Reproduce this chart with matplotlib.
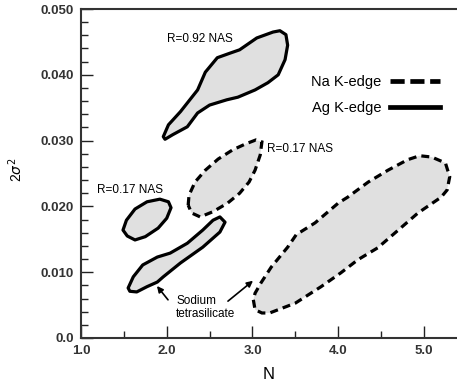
import matplotlib.pyplot as plt
from matplotlib.lines import Line2D

plt.rcParams['font.family'] = ['Liberation Sans', 'DejaVu Sans']

# Konturid (N, 2sigma^2)
r092_n = [1.96, 2.02, 2.16, 2.36, 2.45, 2.59, 2.74, 2.85, 3.05, 3.24, 3.32, 3.39, 3.41, 3.38,
          3.30, 3.18, 3.03, 2.83, 2.70, 2.50, 2.36, 2.24, 2.07, 1.98]
r092_s = [0.0306, 0.0324, 0.0344, 0.0377, 0.0404, 0.0426, 0.0433, 0.0438, 0.0456, 0.0465, 0.0467,
          0.0461, 0.0445, 0.0423, 0.0400, 0.0388, 0.0377, 0.0366, 0.0362, 0.0354, 0.0342, 0.0321,
          0.0309, 0.0302]

r017_ag_n = [1.77, 1.92, 2.02, 2.05, 2.00, 1.90, 1.75, 1.63, 1.54, 1.49, 1.53, 1.63]
r017_ag_s = [0.0207, 0.0211, 0.0207, 0.0198, 0.0182, 0.0167, 0.0154, 0.0149, 0.0155, 0.0164,
             0.0179, 0.0196]

tetra_ag_n = [1.55, 1.61, 1.72, 1.89, 2.04, 2.24, 2.42, 2.54, 2.62, 2.68, 2.62, 2.42, 2.16,
              1.96, 1.89, 1.77, 1.65, 1.57]
tetra_ag_s = [0.0076, 0.0093, 0.0111, 0.0123, 0.0129, 0.0144, 0.0164, 0.0179, 0.0184, 0.0176,
              0.0161, 0.0138, 0.0114, 0.0093, 0.0085, 0.0078, 0.0070, 0.0071]

r017_na_n = [2.25, 2.26, 2.33, 2.45, 2.60, 2.77, 2.92, 3.04, 3.11, 3.09, 3.03, 2.96, 2.85, 2.71,
             2.54, 2.39, 2.29]
r017_na_s = [0.0202, 0.0217, 0.0237, 0.0255, 0.0272, 0.0286, 0.0295, 0.0301, 0.0298, 0.0278,
             0.0255, 0.0237, 0.0220, 0.0205, 0.0192, 0.0184, 0.0190]

tetra_na_n = [3.01, 3.03, 3.11, 3.20, 3.50, 3.80, 4.03, 4.23, 4.46, 4.70, 4.93, 5.20, 5.27, 5.30,
              5.25, 5.09, 4.95, 4.81, 4.58, 4.35, 4.11, 4.00, 3.73, 3.51, 3.41, 3.22, 3.10, 3.03]
tetra_na_s = [0.0058, 0.0043, 0.0038, 0.0038, 0.0053, 0.0078, 0.0099, 0.0119, 0.0137, 0.0164,
              0.0190, 0.0214, 0.0225, 0.0245, 0.0266, 0.0275, 0.0277, 0.0271, 0.0255, 0.0237,
              0.0214, 0.0205, 0.0175, 0.0157, 0.0138, 0.0108, 0.0084, 0.0068]

tahised = ['Na K-edge', 'Ag K-edge']

täide = '#e0e0e0'
kriips = (0, (2.5, 1.6))

fig = plt.figure(figsize=(4.57, 3.85), dpi=100)
ax = fig.add_axes([0.1772, 0.1221, 0.8228, 0.8545])

# Ag K-edge (pidev joon)
for n, s in [(r092_n, r092_s), (r017_ag_n, r017_ag_s), (tetra_ag_n, tetra_ag_s)]:
    ax.fill(n, s, facecolor=täide, edgecolor='black', linewidth=2.3, joinstyle='round')

# Na K-edge (katkendjoon)
for n, s in [(r017_na_n, r017_na_s), (tetra_na_n, tetra_na_s)]:
    ax.fill(n, s, facecolor=täide, edgecolor='black', linewidth=2.3, linestyle=kriips)

ax.set_xlim(1.0, 5.385)
ax.set_ylim(0.0, 0.05)
ax.set_xticks([1.0, 2.0, 3.0, 4.0, 5.0])
ax.set_xticklabels(['1.0', '2.0', '3.0', '4.0', '5.0'])
ax.set_xticks([1.5, 2.5, 3.5, 4.5], minor=True)
ax.set_yticks([0.0, 0.01, 0.02, 0.03, 0.04, 0.05])
ax.set_yticklabels(['0.0', '0.010', '0.020', '0.030', '0.040', '0.050'])
ax.set_yticks([0.002 * i for i in range(1, 25) if i % 5 != 0], minor=True)

ax.tick_params(which='both', direction='in', colors='#222222', labelsize=9.5,
               top=False, right=False, width=1.0)
ax.tick_params(which='major', length=8.5)
ax.tick_params(which='minor', length=5)
ax.tick_params(axis='y', pad=5)
ax.tick_params(axis='x', pad=5)
for t in ax.get_xticklabels() + ax.get_yticklabels():
    t.set_fontweight('bold')
    t.set_color('#333333')

ax.spines['right'].set_visible(False)
for k in ['left', 'bottom', 'top']:
    ax.spines[k].set_linewidth(1.5)
    ax.spines[k].set_color('#333333')

ax.set_xlabel('N', fontsize=12, labelpad=7)
ax.set_ylabel(r'2$\sigma^2$', fontsize=10)
ax.yaxis.set_label_coords(-0.15, 0.51)

# Sildid
ax.text(2.39, 0.0454, 'R=0.92 NAS', fontsize=8.5, ha='center', va='center')
ax.text(1.57, 0.0225, 'R=0.17 NAS', fontsize=8.5, ha='center', va='center')
ax.text(3.17, 0.0287, 'R=0.17 NAS', fontsize=8.5, ha='left', va='center')
ax.text(2.11, 0.0047, 'Sodium\ntetrasilicate', fontsize=8.5, ha='left', va='center',
        linespacing=1.1)
nool = dict(arrowstyle='-|>', color='black', lw=1.2, mutation_scale=9, shrinkA=0, shrinkB=0)
ax.annotate('', xy=(1.886, 0.0079), xytext=(2.015, 0.0058), arrowprops=nool)
ax.annotate('', xy=(3.006, 0.0087), xytext=(2.714, 0.0056), arrowprops=nool)

# Legend
käepidemed = [Line2D([], [], color='black', lw=3.4, linestyle=(0, (3.0, 1.2))),
              Line2D([], [], color='black', lw=3.4)]
ax.legend(käepidemed, tahised, loc='upper right', bbox_to_anchor=(0.97, 0.818),
          frameon=False, markerfirst=False, fontsize=10.5, handlelength=3.4,
          handletextpad=0.6, labelspacing=0.85, borderaxespad=0)

fig.savefig('out.png', dpi=100)
